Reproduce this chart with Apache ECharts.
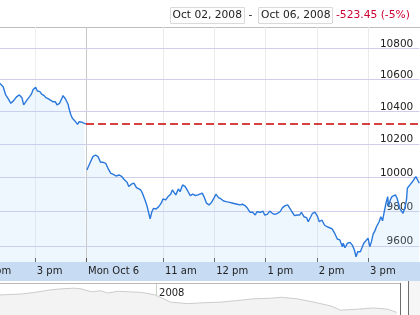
<!DOCTYPE html>
<html><head><meta charset="utf-8">
<script src="https://cdn.jsdelivr.net/npm/echarts@6/dist/echarts.min.js"></script>
<style>html,body{margin:0;padding:0;background:#fff}#c{width:420px;height:315px}</style>
</head><body><div id="c"></div>
<script>
// ---- data (trading minutes since Friday Oct 3 09:30; Monday open = 390) ----
const friMinutes = [289,293,296,299,302,305,309,312,315,317,321,324,326,328,331,333,336,338,341,343,346,348,351,354,356,359,362,363,366,369,370,372,374,377,380,382,385,388,390];
const friValues  = [10577,10556,10504,10479,10452,10467,10494,10504,10487,10442,10473,10494,10509,10536,10552,10529,10525,10509,10500,10487,10479,10467,10462,10462,10442,10452,10487,10500,10479,10446,10421,10384,10359,10343,10322,10338,10335,10328,10325];
const monMinutes = [391,393,395,398,401,404,407,410,413,416,419,422,425,429,432,434,438,440,443,446,449,451,454,456,459,461,463,465,467,469,472,475,478,480,483,486,489,491,493,495,498,500,503,506,509,512,515,518,521,523,526,528,531,534,537,540,542,545,548,551,554,557,559,562,564,567,570,573,576,579,582,585,588,590,594,597,599,602,605,608,611,614,617,620,623,626,628,631,634,637,640,642,645,648,650,653,655,658,661,663,666,669,672,675,678,681,684,687,690,691,693,696,699,702,704,706,708,711,713,715,717,720,722,724,726,728,730,733,735,737,739,741,743,744,746,748,750,752,754,756,757,761,763,765,766,769,772,774,776,778,780];
const monValues  = [10045,10051,10091,10125,10135,10125,10091,10091,10085,10051,10025,10019,10009,10015,10005,9991,9972,9946,9960,9966,9940,9932,9926,9907,9867,9838,9798,9756,9798,9818,9814,9828,9848,9873,9867,9887,9901,9926,9920,9897,9932,9916,9956,9946,9920,9893,9901,9893,9897,9893,9907,9887,9848,9838,9854,9881,9901,9881,9873,9861,9857,9854,9861,9848,9854,9842,9838,9842,9834,9818,9795,9795,9779,9798,9795,9802,9779,9783,9802,9789,9783,9789,9798,9822,9834,9838,9822,9798,9775,9779,9779,9795,9769,9764,9740,9769,9789,9795,9769,9740,9750,9721,9711,9705,9698,9673,9640,9635,9596,9616,9590,9616,9621,9602,9577,9539,9567,9567,9577,9616,9625,9645,9596,9625,9668,9687,9712,9740,9769,9745,9798,9848,9887,9828,9867,9887,9877,9897,9877,9842,9818,9789,9818,9867,9936,9956,9975,9991,10005,10005,9966];
const prevClose = 10325;
const yGridValues = [9600, 9800, 10000, 10200, 10400, 10600, 10800];
const yGridLabels = ['9600', '9800', '10000', '10200', '10400', '10600', '10800'];
const xTickMinutes = [270, 330, 390, 480, 540, 600, 660, 720];
const xTickLabels = ['2 pm', '3 pm', 'Mon Oct 6', '11 am', '12 pm', '1 pm', '2 pm', '3 pm'];
const navDays   = [-181,-156,-141,-122,-110,-95,-87,-75,-64,-56,-44,-32,-17,-2,8,17,37,56,75,95,113,133,145,164,183,203,214,234,252,269,279];
const navValues = [12964,13126,13386,13825,13987,14100,13987,13500,13662,13289,13580,13500,13386,13012,12362,11761,11501,11664,11761,12037,12314,12411,12574,12314,11761,11111,10413,10575,10786,10575,10039];
const navYearTick = [0];
const navYearLabel = ['2008'];
const headerFrom = 'Oct 02, 2008';
const headerTo = 'Oct 06, 2008';
const headerChange = '-523.45 (-5%)';

// ---- build ----
const mainData = friMinutes.map((m, i) => [m, friValues[i]])
  .concat([[390, null]])
  .concat(monMinutes.map((m, i) => [m, monValues[i]]));
const navData = navDays.map((d, i) => [d, navValues[i]]);
const FONT = '"DejaVu Sans", Verdana, sans-serif';

const chart = echarts.init(document.getElementById('c'), null, {renderer: 'canvas'});
chart.setOption({
  animation: false,
  backgroundColor: '#fff',
  grid: [
    {left: -16.5, right: 0.7, top: 27, bottom: 53, containLabel: false, outerBoundsMode: 'none'},
    {left: 0, right: 20, top: 284, bottom: 0, containLabel: false, outerBoundsMode: 'none'}
  ],
  xAxis: [{
    gridIndex: 0, type: 'value', min: 270, max: 780,
    axisLine: {show: false},
    axisTick: {show: true, inside: true, length: 4, customValues: xTickMinutes, lineStyle: {color: '#555'}},
    axisLabel: {
      customValues: xTickMinutes, align: 'left', margin: 4, padding: [0, 0, 0, 2],
      fontSize: 10, fontFamily: FONT, color: '#222',
      formatter: v => xTickLabels[xTickMinutes.indexOf(v)]
    },
    splitLine: {show: true, lineStyle: {color: ['#eeeeee', '#eeeeee', '#c8c8c8', '#eaeaea', '#eaeaea', '#eaeaea', '#eaeaea', '#eaeaea'], width: 1}}
  }, {
    gridIndex: 1, type: 'value', min: -181, max: 283, position: 'top',
    axisLine: {show: false},
    axisTick: {show: false, customValues: navYearTick},
    axisLabel: {customValues: navYearTick, inside: true, align: 'left', margin: 4, padding: [0, 0, 0, 3],
      fontSize: 10, fontFamily: FONT, color: '#222', formatter: v => navYearLabel[navYearTick.indexOf(v)]},
    splitLine: {show: true, lineStyle: {color: '#c5d2c5'}}
  }],
  yAxis: [{
    gridIndex: 0, type: 'log', logBase: 10, min: 9509, max: 10938, show: false
  }, {
    gridIndex: 1, type: 'value', min: 9600, max: 14800, show: false
  }],
  series: [{
    type: 'line', xAxisIndex: 0, yAxisIndex: 0, data: [], z: 1, silent: true,
    markLine: {
      silent: true, symbol: 'none', z: 1,
      lineStyle: {color: '#cfcfec', type: 'solid', width: 1},
      label: {show: true, position: 'insideEndTop', distance: [6, -1], fontSize: 10.5, fontFamily: FONT, color: '#222',
        formatter: p => yGridLabels[yGridValues.indexOf(p.value)]},
      emphasis: {disabled: true},
      data: yGridValues.map(v => ({yAxis: v}))
    }
  }, {
    type: 'line', xAxisIndex: 0, yAxisIndex: 0, data: mainData, z: 2,
    showSymbol: false, connectNulls: false, smooth: false,
    lineStyle: {color: '#2a78dc', width: 1.4},
    areaStyle: {color: 'rgba(170,215,250,0.27)'},
    markLine: {
      silent: true, symbol: 'none',
      lineStyle: {color: '#cc0000', type: [8, 4], width: 1.5},
      label: {show: false},
      emphasis: {disabled: true},
      data: [[{coord: [390, prevClose]}, {coord: [780, prevClose]}]]
    }
  }, {
    type: 'line', xAxisIndex: 1, yAxisIndex: 1, data: navData,
    showSymbol: false, silent: true,
    lineStyle: {color: '#cccccc', width: 1},
    areaStyle: {color: '#f3f3f3', opacity: 1}
  }],
  graphic: [
    {type: 'rect', z: -5, shape: {x: 0, y: 262, width: 420, height: 19}, style: {fill: '#c7dbf3'}, silent: true},
    {type: 'line', shape: {x1: 0, y1: 27.5, x2: 420, y2: 27.5}, style: {stroke: '#bdbdbd', lineWidth: 1}, silent: true},
    {type: 'line', shape: {x1: 0, y1: 283.5, x2: 400, y2: 283.5}, style: {stroke: '#b8b8b8', lineWidth: 1}, silent: true},
    {type: 'rect', shape: {x: 409, y: 281, width: 11, height: 34}, style: {fill: '#f6f6f6'}, silent: true},
    {type: 'line', shape: {x1: 400.5, y1: 283, x2: 400.5, y2: 315}, style: {stroke: '#6e6e6e', lineWidth: 1}, silent: true},
    {type: 'line', shape: {x1: 408.5, y1: 281, x2: 408.5, y2: 315}, style: {stroke: '#6e6e6e', lineWidth: 1}, silent: true},
    {type: 'rect', shape: {x: 170.5, y: 7.5, width: 74, height: 16}, style: {fill: '#fdfdfd', stroke: '#dadada', lineWidth: 1}, silent: true},
    {type: 'text', x: 172.5, y: 15.5, style: {text: headerFrom, font: '10.7px ' + FONT, fill: '#222', verticalAlign: 'middle'}, silent: true},
    {type: 'text', x: 248.5, y: 15.5, style: {text: '-', font: '10.7px ' + FONT, fill: '#222', verticalAlign: 'middle'}, silent: true},
    {type: 'rect', shape: {x: 258.5, y: 7.5, width: 74, height: 16}, style: {fill: '#fdfdfd', stroke: '#dadada', lineWidth: 1}, silent: true},
    {type: 'text', x: 261, y: 15.5, style: {text: headerTo, font: '10.7px ' + FONT, fill: '#222', verticalAlign: 'middle'}, silent: true},
    {type: 'text', x: 336, y: 15.5, style: {text: headerChange, font: '10.7px ' + FONT, fill: '#cc0033', verticalAlign: 'middle'}, silent: true}
  ]
});
</script></body></html>
